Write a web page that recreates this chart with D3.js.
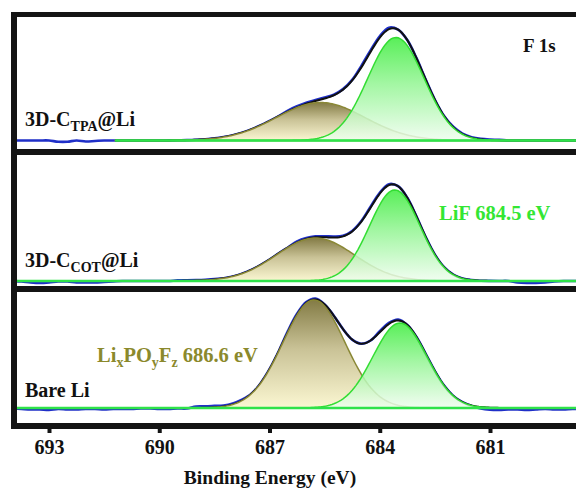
<!DOCTYPE html>
<html>
<head>
<meta charset="utf-8">
<script src="https://cdn.jsdelivr.net/npm/d3@7"></script>
<style>
  body { margin: 0; background: #fff; }
  svg { display: block; }
  text { font-family: "Liberation Serif", "Times New Roman", serif; font-weight: bold; }
</style>
</head>
<body>
<div id="vis"></div>
<script>
// peak fit parameters (energy in eV, intensity in a.u.)
var panelLabels = [["3D-C", "TPA", "@Li"], ["3D-C", "COT", "@Li"], ["Bare Li", "", ""]];
var lifCenter  = [683.56, 683.59, 683.45];
var lifFwhm    = [1.80, 1.62, 1.73];
var lifHeight  = [103, 91, 85];
var lipoCenter = [685.61, 685.75, 685.79];
var lipoFwhm   = [2.83, 2.50, 1.99];
var lipoHeight = [38, 43, 108];
var background = [8.5, 5, 15];
var fitStart   = [691.2, 694, 694];

// measured trace minus fit, sampled every 0.25 eV from 694 eV down to 678.5 eV
var residual1 = [0,0,0,0,0,-1.2,-1.2,0,-1,-0.5,0,0,0,0,0,0,0,0,0,0,0,0,0,0,0,0,0,0,0,0,
                 1,1,1,1,1,0.5,0.5,0.5,1.5,1.5,1.5,1.5,0,0,0,0,0,0,0.5,0.5,0.5,0.5,0.5,0.5,0,0,0,0,0,0,0,0,0];
var residual2 = [0,-0.5,-1.5,-2,-1.5,-0.5,-0.5,-1.5,-1.5,-1.5,-1,-0.5,0,0,0,0,0,0,0.5,0.5,0.5,0.5,0.5,0,0,0,0,0,0,0,
                 0,1,1,1,1,1,0.5,0.5,0.5,1,1,1,0,0,0,0,0,0,0,0,0,0,0,0,0,-1.5,-2,-2,-1.5,-0.5,0,0,0];
var residual3 = [-0.5,-1,-1.5,-1.5,-2,-1,-1.5,-1.5,-1,-1,-1.5,-1,-1,-1,-0.5,-0.5,-1,-1,-0.5,-0.5,1.5,1.5,1.5,1,1,1,0,0,0,0,
                 1,1,1,1,0,0,0,0,0,0,1,1,1,0,0,0,0,0,0,0,-0.5,-1.5,-2,-2,-1.5,-1.5,-2,-1.5,-1,-1.5,-1.5,-1,-1];
var residuals = [residual1, residual2, residual3];

var tickValues = [693, 690, 687, 684, 681];

var w = 576, h = 490;
var panelTop = [17, 155, 292];
var panelBottom = [149, 286, 423];

var svg = d3.select("#vis").append("svg").attr("width", w).attr("height", h);

var x = d3.scaleLinear().domain([693, 681]).range([49, 490]);

var defs = svg.append("defs");
function grad(id, stops) {
  var g = defs.append("linearGradient").attr("id", id)
    .attr("x1", 0).attr("y1", 0).attr("x2", 0).attr("y2", 1);
  stops.forEach(function(s) {
    g.append("stop").attr("offset", s[0]).attr("stop-color", s[1]);
  });
}
grad("gLiF", [["0%", "#3cec3c"], ["45%", "#93f593"], ["100%", "#effdef"]]);
grad("gLiPO", [["0%", "#837b45"], ["45%", "#c9c296"], ["100%", "#fbf7d2"]]);

function gauss(e, c, fwhm, hgt) {
  var s = fwhm / 2.3548;
  return hgt * Math.exp(-(e - c) * (e - c) / (2 * s * s));
}

var grid = d3.range(694, 678.45, -0.05);
var dataE = d3.range(0, 63).map(function(i) { return 694 - 0.25 * i; });

panelTop.forEach(function(top, p) {
  var bottom = panelBottom[p];
  var y = d3.scaleLinear().domain([0, 132]).range([bottom, bottom - 132]);
  var bg = background[p];

  defs.append("clipPath").attr("id", "clip" + p)
    .append("rect").attr("x", 14).attr("y", top).attr("width", w).attr("height", bottom - top);
  var g = svg.append("g").attr("clip-path", "url(#clip" + p + ")");

  function lif(e) { return gauss(e, lifCenter[p], lifFwhm[p], lifHeight[p]); }
  function lipo(e) { return gauss(e, lipoCenter[p], lipoFwhm[p], lipoHeight[p]); }
  function fit(e) { return e <= fitStart[p] ? bg + lif(e) + lipo(e) : bg; }

  var fitGrid = grid.filter(function(e) { return e <= fitStart[p] + 1e-9; });

  // measured trace
  var trace = dataE.map(function(e, i) { return [e, fit(e) + residuals[p][i]]; });
  g.append("path")
    .attr("d", d3.line().x(function(d) { return x(d[0]); }).y(function(d) { return y(d[1]); })
      .curve(d3.curveCatmullRom)(trace))
    .attr("fill", "none").attr("stroke", "#1f2fc8").attr("stroke-width", 2.6);

  // envelope
  g.append("path")
    .attr("d", d3.line().x(function(e) { return x(e); }).y(function(e) { return y(bg + lif(e) + lipo(e)); })(fitGrid))
    .attr("fill", "none").attr("stroke", "#111").attr("stroke-width", 2);

  // LixPOyFz component
  g.append("path")
    .attr("d", d3.area().x(function(e) { return x(e); }).y0(y(bg))
      .y1(function(e) { return y(bg + lipo(e)); })(fitGrid))
    .attr("fill", "url(#gLiPO)").attr("stroke", "#8a8836").attr("stroke-width", 1.5);

  // LiF component
  g.append("path")
    .attr("d", d3.area().x(function(e) { return x(e); }).y0(y(bg))
      .y1(function(e) { return y(bg + lif(e)); })(fitGrid))
    .attr("fill", "url(#gLiF)").attr("fill-opacity", 0.85)
    .attr("stroke", "#33dd33").attr("stroke-width", 1.5);

  // background
  g.append("line")
    .attr("x1", x(fitStart[p])).attr("x2", x(678.4))
    .attr("y1", y(bg)).attr("y2", y(bg))
    .attr("stroke", "#2fe24a").attr("stroke-width", 2.5);

  // sample label
  var lab = svg.append("text").attr("x", 25).attr("y", bottom - (p === 0 ? 23 : p === 1 ? 19 : 26))
    .attr("font-size", "20px").attr("fill", "#111");
  lab.append("tspan").text(panelLabels[p][0]);
  if (panelLabels[p][1]) {
    lab.append("tspan").attr("font-size", "14px").attr("dy", 5).text(panelLabels[p][1]);
    lab.append("tspan").attr("dy", -5).text(panelLabels[p][2]);
  }
});

// frame
var frame = svg.append("g").attr("stroke", "#141414");
frame.append("line").attr("x1", 14).attr("x2", 14).attr("y1", 12).attr("y2", 429).attr("stroke-width", 6);
[[14.5, 5], [152, 6], [289, 6], [426, 6]].forEach(function(l) {
  frame.append("line").attr("x1", 11).attr("x2", 600).attr("y1", l[0]).attr("y2", l[0]).attr("stroke-width", l[1]);
});

// x axis
var axis = svg.append("g").attr("transform", "translate(0,429)")
  .call(d3.axisBottom(x).tickValues(tickValues).tickSize(4).tickFormat(d3.format("d")));
axis.select(".domain").remove();
axis.selectAll(".tick line").attr("stroke", "#141414").attr("stroke-width", 4);
axis.selectAll(".tick text").attr("y", 25).attr("dy", 0)
  .attr("font-size", "20px").attr("fill", "#111")
  .style("font-family", "'Liberation Serif', 'Times New Roman', serif").style("font-weight", "bold");

svg.append("text").attr("x", 270).attr("y", 484).attr("text-anchor", "middle")
  .attr("font-size", "19.5px").attr("fill", "#111").text("Binding Energy (eV)");

// annotations
svg.append("text").attr("x", 523).attr("y", 52).attr("font-size", "19px").attr("fill", "#111").text("F 1s");
svg.append("text").attr("x", 439).attr("y", 220).attr("font-size", "20.5px").attr("fill", "#33e633").text("LiF 684.5 eV");

var lp = svg.append("text").attr("x", 97).attr("y", 362).attr("font-size", "20.5px").attr("fill", "#8b892c");
lp.append("tspan").text("Li");
lp.append("tspan").attr("font-size", "14px").attr("dy", 5).text("x");
lp.append("tspan").attr("dy", -5).text("PO");
lp.append("tspan").attr("font-size", "14px").attr("dy", 5).text("y");
lp.append("tspan").attr("dy", -5).text("F");
lp.append("tspan").attr("font-size", "14px").attr("dy", 5).text("z");
lp.append("tspan").attr("dy", -5).text(" 686.6 eV");
</script>
</body>
</html>
